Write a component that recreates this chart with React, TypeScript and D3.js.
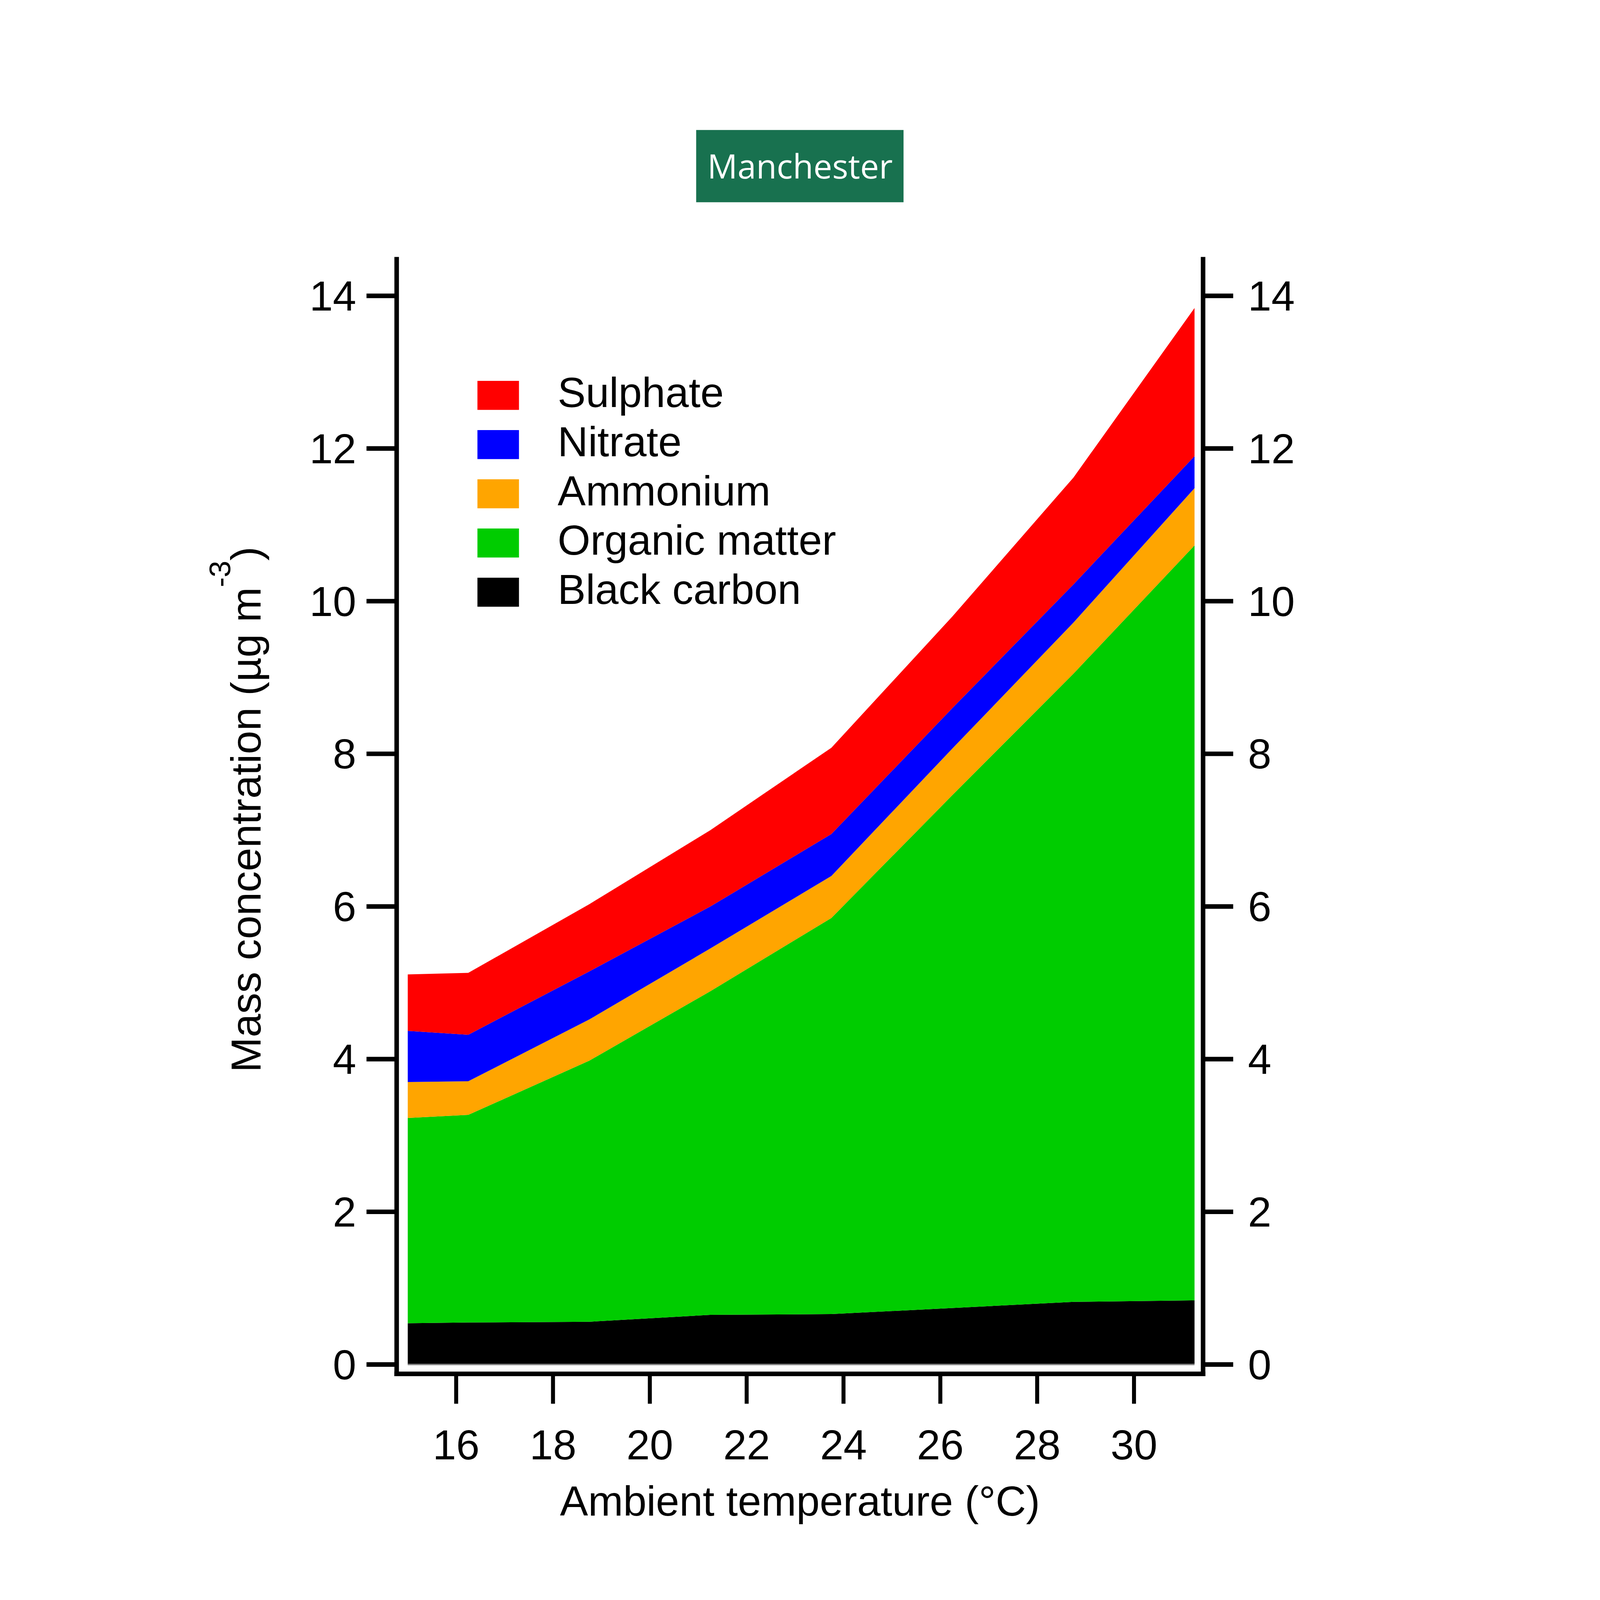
import { useEffect, useState } from "react";
import * as d3 from "d3";

// Temperature bins (°C) and mass concentrations (µg m-3) of each species
const TEMPERATURE = [15, 16.25, 18.75, 21.25, 23.75, 26.25, 28.75, 31.25];
const BLACK_CARBON = [0.54, 0.55, 0.56, 0.65, 0.66, 0.74, 0.82, 0.84];
const ORGANIC_MATTER = [2.69, 2.72, 3.42, 4.24, 5.19, 6.72, 8.23, 9.89];
const AMMONIUM = [0.47, 0.44, 0.54, 0.56, 0.55, 0.61, 0.67, 0.75];
const NITRATE = [0.67, 0.61, 0.63, 0.55, 0.55, 0.53, 0.5, 0.42];
const SULPHATE = [0.74, 0.81, 0.88, 1.0, 1.13, 1.2, 1.4, 1.94];

// stacking order, bottom to top
const SPECIES = ["Black carbon", "Organic matter", "Ammonium", "Nitrate", "Sulphate"];
const SERIES: Record<string, number[]> = {
  "Black carbon": BLACK_CARBON,
  "Organic matter": ORGANIC_MATTER,
  Ammonium: AMMONIUM,
  Nitrate: NITRATE,
  Sulphate: SULPHATE,
};
const LEGEND = ["Sulphate", "Nitrate", "Ammonium", "Organic matter", "Black carbon"];

const X_TICKS = [16, 18, 20, 22, 24, 26, 28, 30];
const Y_TICKS = [0, 2, 4, 6, 8, 10, 12, 14];

const COLORS: Record<string, string> = {
  Sulphate: "#ff0000",
  Nitrate: "#0000ff",
  Ammonium: "#ffa500",
  "Organic matter": "#00cc00",
  "Black carbon": "#000000",
};

// drawing units; the svg is scaled to whatever window it lands in
const W = 4500;
const H = 5625;
const FONT = "'Liberation Sans', Arial, sans-serif";
const FS = 148;

const x = d3.scaleLinear().domain([15, 31.25]).range([871, 3637]);
const y = d3.scaleLinear().domain([0, 14]).range([4797, 1040]);

// axis frame sits a little outside the data area
const axisLeft = 832;
const axisRight = 3667;
const axisBottom = 4830;
const axisTop = y(14.51);
const LW = 16;

type Row = { t: number } & Record<string, number>;

export default function App() {
  const [size, setSize] = useState({ w: window.innerWidth, h: window.innerHeight });

  useEffect(() => {
    const onResize = () => setSize({ w: window.innerWidth, h: window.innerHeight });
    window.addEventListener("resize", onResize);
    return () => window.removeEventListener("resize", onResize);
  }, []);

  const rows: Row[] = TEMPERATURE.map((t, i) => {
    const r: any = { t };
    SPECIES.forEach((s) => (r[s] = SERIES[s][i]));
    return r;
  });

  const stacked = d3.stack<Row>().keys(SPECIES)(rows);

  const area = d3
    .area<d3.SeriesPoint<Row>>()
    .x((d) => x(d.data.t))
    .y0((d) => y(d[0]))
    .y1((d) => y(d[1]));

  return (
    <div style={{ position: "absolute", left: 0, top: 0, background: "#fff" }}>
      <svg
        width={size.w}
        height={size.h}
        viewBox={`0 0 ${W} ${H}`}
        preserveAspectRatio="xMidYMid meet"
        style={{ display: "block" }}
      >
        <rect width={W} height={H} fill="#fff" />

        {/* title badge */}
        <rect x={1885} y={457} width={729} height={254} fill="#18714f" />
        <text
          x={2250}
          y={627}
          textAnchor="middle"
          fill="#fff"
          style={{ fontFamily: "'Open Sans', 'Noto Sans', sans-serif", fontSize: 118 }}
        >
          Manchester
        </text>

        {/* stacked areas */}
        {stacked.map((layer) => (
          <path key={layer.key} d={area(layer) ?? ""} fill={COLORS[layer.key]} />
        ))}
        <line x1={x(15)} x2={x(31.25)} y1={y(0)} y2={y(0)} stroke="#888" strokeWidth={5} />

        {/* frame */}
        <g stroke="#000" strokeWidth={LW} fill="none">
          <line x1={axisLeft} x2={axisLeft} y1={axisTop} y2={axisBottom + LW / 2} />
          <line x1={axisRight} x2={axisRight} y1={axisTop} y2={axisBottom + LW / 2} />
          <line x1={axisLeft - LW / 2} x2={axisRight + LW / 2} y1={axisBottom} y2={axisBottom} />
        </g>

        {/* y ticks, both sides */}
        {Y_TICKS.map((v) => (
          <g key={`y${v}`}>
            <line x1={726} x2={axisLeft} y1={y(v)} y2={y(v)} stroke="#000" strokeWidth={LW} />
            <line x1={axisRight} x2={3773} y1={y(v)} y2={y(v)} stroke="#000" strokeWidth={LW} />
            <text x={690} y={y(v)} dy="0.35em" textAnchor="end" style={{ fontFamily: FONT, fontSize: FS }}>
              {v}
            </text>
            <text x={3825} y={y(v)} dy="0.35em" textAnchor="start" style={{ fontFamily: FONT, fontSize: FS }}>
              {v}
            </text>
          </g>
        ))}

        {/* x ticks */}
        {X_TICKS.map((v) => (
          <g key={`x${v}`}>
            <line x1={x(v)} x2={x(v)} y1={axisBottom} y2={4935} stroke="#000" strokeWidth={14} />
            <text x={x(v)} y={5130} textAnchor="middle" style={{ fontFamily: FONT, fontSize: FS }}>
              {v}
            </text>
          </g>
        ))}

        {/* axis titles */}
        <text x={2250} y={5329} textAnchor="middle" style={{ fontFamily: FONT, fontSize: FS }}>
          Ambient temperature (°C)
        </text>
        <text
          transform="translate(353,2846) rotate(-90)"
          textAnchor="middle"
          style={{ fontFamily: FONT, fontSize: FS }}
        >
          Mass concentration (µg m
          <tspan dy={-107} style={{ fontSize: 105 }}>
            -3
          </tspan>
          <tspan dy={107}>)</tspan>
        </text>

        {/* legend */}
        {LEGEND.map((s, i) => {
          const top = 1339 + i * 173;
          return (
            <g key={s}>
              <rect x={1116} y={top} width={146} height={102} fill={COLORS[s]} />
              <text x={1398} y={top + 92} style={{ fontFamily: FONT, fontSize: FS }}>
                {s}
              </text>
            </g>
          );
        })}
      </svg>
    </div>
  );
}
